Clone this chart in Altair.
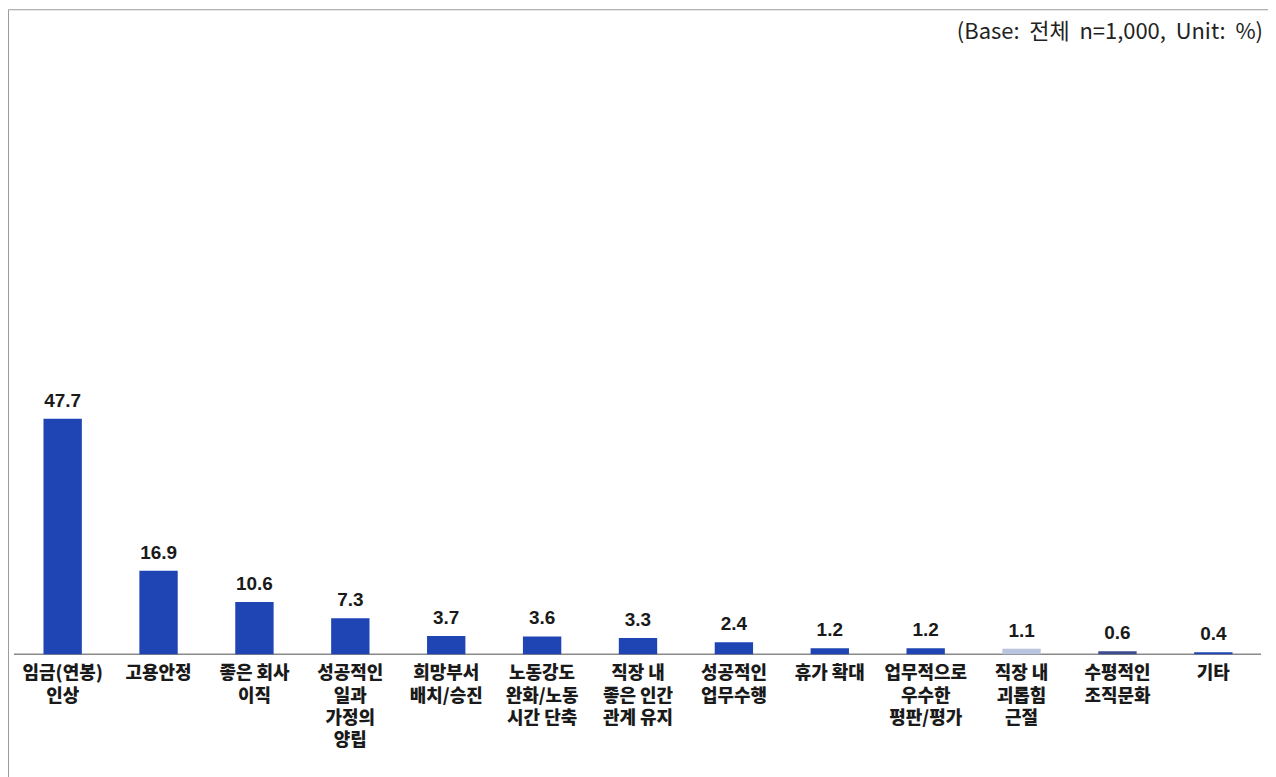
import altair as alt
import pandas as pd

categories = [
    "임금(연봉)\n인상",
    "고용안정",
    "좋은 회사\n이직",
    "성공적인\n일과\n가정의\n양립",
    "희망부서\n배치/승진",
    "노동강도\n완화/노동\n시간 단축",
    "직장 내\n좋은 인간\n관계 유지",
    "성공적인\n업무수행",
    "휴가 확대",
    "업무적으로\n우수한\n평판/평가",
    "직장 내\n괴롭힘\n근절",
    "수평적인\n조직문화",
    "기타",
]
values = [47.7, 16.9, 10.6, 7.3, 3.7, 3.6, 3.3, 2.4, 1.2, 1.2, 1.1, 0.6, 0.4]
note_text = "(Base:\u00a0\u00a0전체\u00a0\u00a0n=1,000,\u00a0\u00a0Unit:\u00a0\u00a0%)"

bar_colors = ["#1f44b3"] * 10 + ["#b9c4de", "#3d4b8f", "#1f44b3"]

W, H = 1264, 790
zero_px = 647
ppu = 4.95
y_dom = [-(H - zero_px) / ppu, zero_px / ppu]

df = pd.DataFrame({"cat": categories, "val": values})
df["label"] = df["val"].map(lambda v: f"{v:.1f}")

x = alt.X("cat:N", sort=categories, axis=None,
          scale=alt.Scale(paddingInner=0.6, paddingOuter=0.37))
y_scale = alt.Scale(domain=y_dom, nice=False, zero=False)

base = alt.Chart(df)

bars = base.mark_bar().encode(
    x=x,
    y=alt.Y("val:Q", scale=y_scale, axis=None),
    y2=alt.datum(0),
    color=alt.Color("cat:N", scale=alt.Scale(domain=categories, range=bar_colors), legend=None),
)

vals = base.mark_text(font="Liberation Sans", fontWeight="bold", fontSize=19,
                      baseline="alphabetic", dy=-12, color="#1a1a1a").encode(
    x=x,
    y=alt.Y("val:Q", scale=y_scale, axis=None),
    text="label:N",
)

cats = base.mark_text(font="Noto Sans CJK KR", fontWeight=900, fontSize=18,
                      baseline="top", dy=11, lineBreak="\n", lineHeight=22.5,
                      color="#1a1a1a").encode(
    x=x,
    y=alt.datum(0, scale=y_scale),
    text="cat:N",
)

axis_line = alt.Chart(pd.DataFrame({"z": [0]})).mark_rule(color="#8a8a8a", strokeWidth=1.5).encode(
    y=alt.Y("z:Q", scale=y_scale, axis=None),
    x=alt.value(6),
    x2=alt.value(1257),
)

note = alt.Chart(pd.DataFrame({"t": [note_text]})).mark_text(
    font="Noto Sans CJK KR", fontSize=22, align="right", baseline="middle", color="#222222"
).encode(
    x=alt.value(W - 5),
    y=alt.value(23),
    text="t:N",
)

chart = alt.layer(axis_line, bars, vals, cats, note).properties(
    width=W, height=H, padding=0
).configure_view(stroke="#9a9a9a", strokeWidth=1)

chart.save("out.html", embed_options={"renderer": "svg", "actions": False})
